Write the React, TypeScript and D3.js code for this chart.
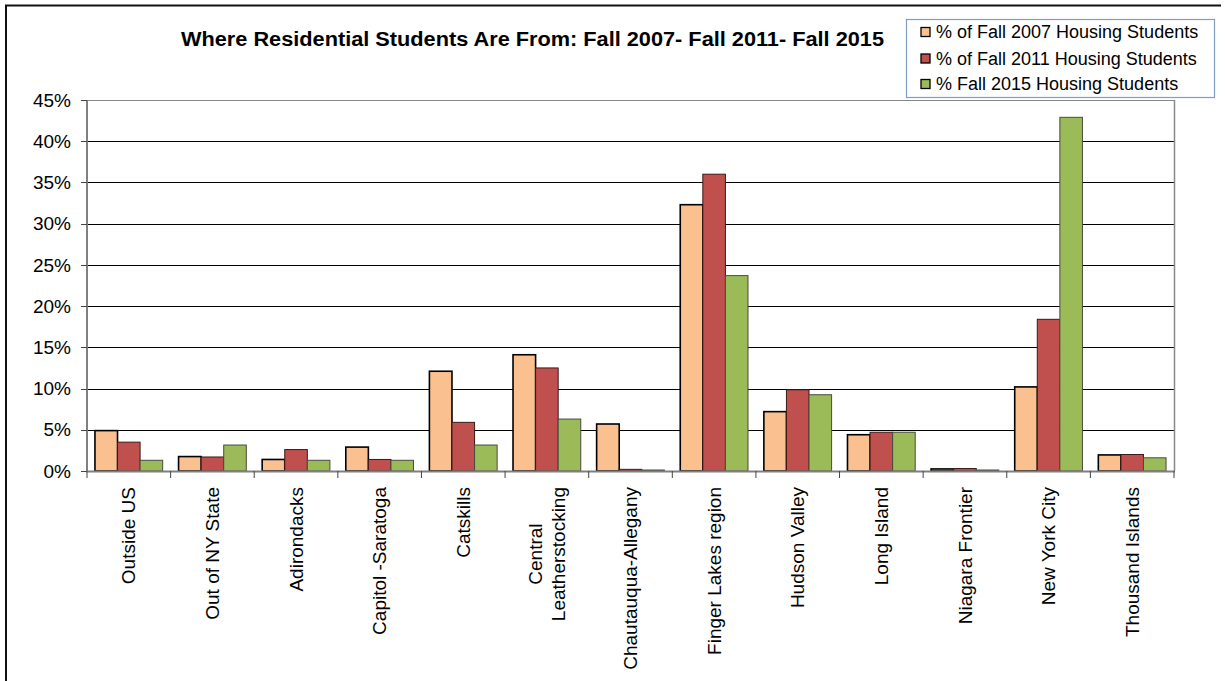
import React, { useEffect, useRef } from "react";
import * as d3 from "d3";

const categories: string[][] = [
  ["Outside US"],
  ["Out of NY  State"],
  ["Adirondacks"],
  ["Capitol -Saratoga"],
  ["Catskills"],
  ["Central", "Leatherstocking"],
  ["Chautauqua-Allegany"],
  ["Finger Lakes region"],
  ["Hudson Valley"],
  ["Long Island"],
  ["Niagara Frontier"],
  ["New York City"],
  ["Thousand Islands"],
];
const fall2007 = [4.9, 1.75, 1.4, 2.9, 12.1, 14.1, 5.7, 32.3, 7.2, 4.4, 0.25, 10.2, 1.95];
const fall2011 = [3.5, 1.7, 2.6, 1.4, 5.9, 12.5, 0.2, 36.0, 9.85, 4.7, 0.3, 18.4, 2.0];
const fall2015 = [1.3, 3.15, 1.3, 1.3, 3.15, 6.3, 0.12, 23.7, 9.25, 4.7, 0.12, 42.9, 1.6];
const seriesNames = [
  "% of Fall 2007 Housing Students",
  "% of Fall 2011 Housing Students",
  "% Fall 2015 Housing Students",
];
const yTicks = [0, 5, 10, 15, 20, 25, 30, 35, 40, 45];
const title = "Where Residential Students Are From: Fall 2007- Fall 2011- Fall 2015";

const W = 1225;
const H = 681;
const FONT = "'Liberation Sans', Arial, sans-serif";
const fills = ["#FAC090", "#C0504D", "#9BBB59"];
const strokes = ["#000000", "#3b1a19", "#4a4a40"];
const strokeW = [1.6, 1, 1];

export default function App() {
  const ref = useRef<SVGSVGElement>(null);
  useEffect(() => {
    const svg = d3.select(ref.current);
    svg.selectAll("*").remove();
    const left = 87, right = 1174, top = 100, bottom = 471;

    const x = d3.scaleBand<number>().domain(d3.range(categories.length)).range([left, right]).padding(0);
    const step = x.step();
    const gap = step * 0.19;
    const xs = d3.scaleBand<number>().domain([0, 1, 2]).range([gap / 2, step - gap / 2]).padding(0);
    const y = d3.scaleLinear().domain([0, 45]).range([bottom, top]);

    svg.append("rect").attr("width", W).attr("height", H).attr("fill", "#fff");

    // outer border (top and left)
    svg.append("path").attr("d", `M6,${H} L6,5.5 L1221,5.5`).attr("fill", "none").attr("stroke", "#111").attr("stroke-width", 2);

    // gridlines
    svg.append("g").selectAll("line").data(yTicks.filter((t) => t > 0)).join("line")
      .attr("x1", left).attr("x2", right)
      .attr("y1", (d) => Math.round(y(d)) + 0.5).attr("y2", (d) => Math.round(y(d)) + 0.5)
      .attr("stroke", (d) => (d === 45 ? "#888" : "#000")).attr("stroke-width", 1);

    // right border of plot
    svg.append("line").attr("x1", right + 0.5).attr("x2", right + 0.5).attr("y1", top).attr("y2", bottom)
      .attr("stroke", "#888").attr("stroke-width", 1.5);

    // bars
    const series = [fall2007, fall2011, fall2015];
    series.forEach((vals, si) => {
      svg.append("g").selectAll("rect").data(vals).join("rect")
        .attr("x", (_d, i) => (x(i) as number) + (xs(si) as number))
        .attr("y", (d) => y(d))
        .attr("width", xs.bandwidth())
        .attr("height", (d) => bottom - y(d))
        .attr("fill", fills[si])
        .attr("stroke", strokes[si])
        .attr("stroke-width", strokeW[si]);
    });

    // axes
    svg.append("line").attr("x1", left).attr("x2", left).attr("y1", top).attr("y2", bottom + 1)
      .attr("stroke", "#808080").attr("stroke-width", 2);
    svg.append("line").attr("x1", left - 1).attr("x2", right + 1).attr("y1", bottom + 0.5).attr("y2", bottom + 0.5)
      .attr("stroke", "#808080").attr("stroke-width", 2);

    // y ticks
    const yg = svg.append("g");
    yg.selectAll("line").data(yTicks).join("line")
      .attr("x1", left - 6).attr("x2", left)
      .attr("y1", (d) => Math.round(y(d)) + 0.5).attr("y2", (d) => Math.round(y(d)) + 0.5)
      .attr("stroke", "#444").attr("stroke-width", 1);
    yg.selectAll("text").data(yTicks).join("text")
      .attr("x", 71).attr("y", (d) => y(d)).attr("dy", "0.35em")
      .attr("text-anchor", "end").attr("font-family", FONT).attr("font-size", 19).attr("fill", "#000")
      .text((d) => `${d}%`);

    // x ticks
    svg.append("g").selectAll("line").data(d3.range(categories.length + 1)).join("line")
      .attr("x1", (i) => left + i * step).attr("x2", (i) => left + i * step)
      .attr("y1", bottom).attr("y2", bottom + 7)
      .attr("stroke", "#444").attr("stroke-width", 1);

    // x labels
    const labelTop = 487;
    const lh = 23;
    categories.forEach((lines, i) => {
      const cx = (x(i) as number) + step / 2;
      const g = svg.append("g").attr("transform", `translate(${cx},${labelTop}) rotate(-90)`);
      const t = g.append("text").attr("font-family", FONT).attr("font-size", 19).attr("fill", "#000");
      const spans = lines.map((ln, li) =>
        t.append("tspan").attr("x", 0).attr("y", (li - (lines.length - 1) / 2) * lh).attr("dy", "0.35em").text(ln)
      );
      if (lines.length === 1) {
        t.attr("text-anchor", "end");
      } else {
        const maxLen = d3.max(spans, (s) => (s.node() as SVGTSpanElement).getComputedTextLength()) || 0;
        t.attr("text-anchor", "middle");
        spans.forEach((s) => s.attr("x", -maxLen / 2));
      }
    });

    // title
    svg.append("text").attr("x", 532.5).attr("y", 46).attr("text-anchor", "middle")
      .attr("font-family", FONT).attr("font-size", 20).attr("font-weight", "bold").attr("fill", "#000")
      .attr("textLength", 703).attr("lengthAdjust", "spacingAndGlyphs")
      .text(title);

    // legend
    const lg = svg.append("g");
    lg.append("rect").attr("x", 906.5).attr("y", 19.5).attr("width", 308).attr("height", 78)
      .attr("fill", "#fff").attr("stroke", "#7F9DBF").attr("stroke-width", 1.2);
    const rowY = [32, 58.5, 84];
    seriesNames.forEach((name, i) => {
      lg.append("rect").attr("x", 921).attr("y", rowY[i] - 4.5).attr("width", 9).attr("height", 9)
        .attr("fill", fills[i]).attr("stroke", "#000").attr("stroke-width", 1.3);
      lg.append("text").attr("x", 936).attr("y", rowY[i]).attr("dy", "0.35em")
        .attr("font-family", FONT).attr("font-size", 18).attr("fill", "#000").text(name);
    });
  }, []);

  return (
    <svg ref={ref} width={W} height={H} style={{ position: "absolute", left: 0, top: 0, display: "block" }} />
  );
}
